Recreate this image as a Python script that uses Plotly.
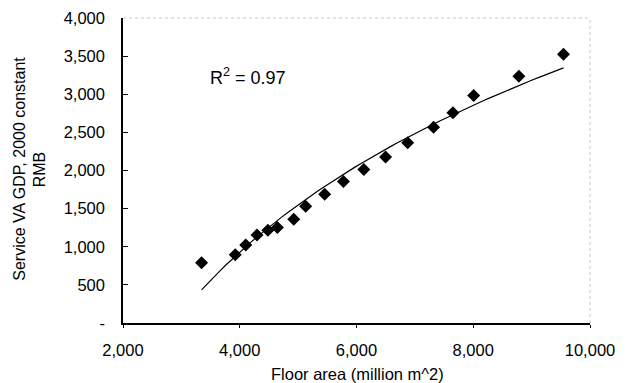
import numpy as np
import plotly.graph_objects as go

floor_area = [3346, 3923, 4103, 4296, 4482, 4645, 4925, 5129, 5455, 5776,
              6125, 6498, 6877, 7320, 7652, 8007, 8782, 9546]
service_gdp = [790, 894, 1024, 1154, 1215, 1254, 1362, 1531, 1688, 1857,
               2013, 2178, 2364, 2568, 2759, 2985, 3236, 3523]
r2_label = "0.97"
y_ticks = [0, 500, 1000, 1500, 2000, 2500, 3000, 3500, 4000]
y_tick_labels = ["-", "500", "1,000", "1,500", "2,000", "2,500", "3,000", "3,500", "4,000"]
x_ticks = [2000, 4000, 6000, 8000, 10000]
x_tick_labels = ["2,000", "4,000", "6,000", "8,000", "10,000"]

# logarithmic trend line fitted to the data
xa = np.array(floor_area, dtype=float)
ya = np.array(service_gdp, dtype=float)
a, b = np.polyfit(np.log(xa), ya, 1)
xt = np.linspace(xa.min(), xa.max(), 60)
yt = a * np.log(xt) + b

fig = go.Figure()
fig.add_trace(go.Scatter(x=xt, y=yt, mode="lines",
                         line=dict(color="black", width=1.2), showlegend=False))
fig.add_trace(go.Scatter(x=floor_area, y=service_gdp, mode="markers",
                         marker=dict(symbol="diamond", size=10, color="black"),
                         showlegend=False))

font = "Liberation Sans, Arial, sans-serif"
fig.update_layout(
    width=634, height=383,
    margin=dict(l=115, r=52, t=1, b=68),
    paper_bgcolor="white", plot_bgcolor="white",
    font=dict(family=font, size=16, color="black"),
    xaxis=dict(range=[2000, 10000], tickvals=x_ticks, ticktext=x_tick_labels,
               showgrid=False, zeroline=False, showline=True, linecolor="black",
               linewidth=1.5, ticks="outside", ticklen=3, tickcolor="black",
               ticklabelstandoff=8, ticklabeloverflow="allow", tickfont=dict(size=16.5)),
    yaxis=dict(range=[0, 4000], tickvals=y_ticks, ticktext=y_tick_labels,
               showgrid=False, zeroline=False, showline=True, linecolor="black",
               linewidth=1.5, ticks="inside", ticklen=5, tickcolor="black",
               ticklabelstandoff=13, ticklabeloverflow="allow", tickfont=dict(size=16.5)),
)
# faint dotted top/right frame
fig.add_shape(type="line", xref="paper", yref="paper", x0=0, x1=1, y0=1, y1=1,
              line=dict(color="#c8c8c8", width=1, dash="dot"))
fig.add_shape(type="line", xref="paper", yref="paper", x0=1, x1=1, y0=0, y1=1,
              line=dict(color="#c8c8c8", width=1, dash="dot"))

fig.add_annotation(x=3456, y=3230, xref="x", yref="y", xanchor="left", yanchor="middle",
                   text="R<sup>2</sup> = " + r2_label, showarrow=False,
                   font=dict(size=18, family=font))
fig.add_annotation(x=0.502, y=-0.132, xref="paper", yref="paper", yanchor="top",
                   text="Floor area (million m^2)", showarrow=False,
                   font=dict(size=16.5, family=font))
fig.add_annotation(x=-0.221, y=0.505, xref="paper", yref="paper", xanchor="center",
                   yanchor="middle", textangle=-90,
                   text="Service VA GDP, 2000 constant", showarrow=False,
                   font=dict(size=16, family=font))
fig.add_annotation(x=-0.177, y=0.505, xref="paper", yref="paper", xanchor="center",
                   yanchor="middle", textangle=-90,
                   text="RMB", showarrow=False,
                   font=dict(size=16, family=font))

fig.write_html("out.html")
